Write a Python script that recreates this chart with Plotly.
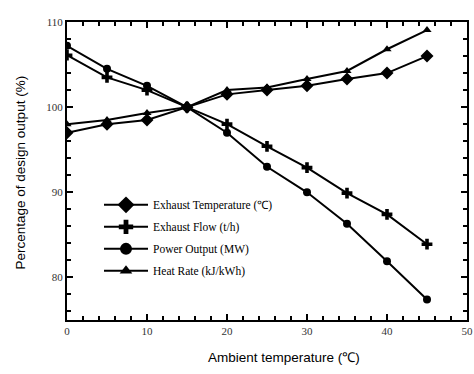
import plotly.graph_objects as go

temps = [0, 5, 10, 15, 20, 25, 30, 35, 40, 45]
exhaust_temp = [97.0, 98.0, 98.5, 100.0, 101.5, 102.0, 102.5, 103.3, 104.0, 106.0]
exhaust_flow = [106.1, 103.5, 102.0, 100.0, 98.0, 95.4, 92.9, 89.9, 87.4, 83.9]
power_output = [107.2, 104.5, 102.5, 100.0, 97.0, 93.0, 90.0, 86.3, 81.9, 77.4]
heat_rate = [98.0, 98.5, 99.3, 100.0, 102.0, 102.3, 103.3, 104.25, 106.8, 109.05]

series = [
    ("Exhaust Temperature (\u2103)", exhaust_temp, "diamond", 10, 13),
    ("Exhaust Flow (t/h)", exhaust_flow, "cross", 9, 12),
    ("Power Output (MW)", power_output, "circle", 8, 12),
    ("Heat Rate (kJ/kWh)", heat_rate, "triangle-up", 8, 11),
]

fig = go.Figure()
for i, (name, vals, sym, sz, lsz) in enumerate(series):
    fig.add_trace(go.Scatter(
        x=temps, y=vals, name=name, mode="lines+markers",
        line=dict(color="black", width=2),
        marker=dict(symbol=sym, size=sz, color="black"),
        legendgroup=f"g{i}", showlegend=False,
    ))
    # legend-only entry with larger marker, as in the reference legend
    fig.add_trace(go.Scatter(
        x=[None], y=[None], name=name, mode="lines+markers",
        line=dict(color="black", width=2),
        marker=dict(symbol=sym, size=lsz, color="black"),
        legendgroup=f"g{i}", showlegend=True,
    ))

axis_common = dict(
    showline=True, linewidth=2, linecolor="black", mirror="ticks",
    ticks="inside", ticklen=6, tickwidth=2, tickcolor="black",
    showgrid=False, zeroline=False, automargin=False,
    tickfont=dict(family="Liberation Serif", size=11, color="#333"),
)

fig.update_xaxes(
    range=[0, 50], tickvals=[0, 10, 20, 30, 40, 50],
    minor=dict(ticks="inside", ticklen=4, tickwidth=1.5, tickcolor="black", dtick=2, showgrid=False),
    **axis_common,
)
fig.update_yaxes(
    range=[75, 110], tickvals=[80, 90, 100, 110],
    minor=dict(ticks="inside", ticklen=4, tickwidth=1.5, tickcolor="black", dtick=2, tick0=0, showgrid=False),
    **axis_common,
)

fig.add_annotation(
    text="Ambient temperature (\u2103)", xref="paper", yref="paper",
    x=0.5425, y=-0.1275, xanchor="center", yanchor="middle", showarrow=False,
    font=dict(family="Liberation Sans", size=13.5, color="black"),
)
fig.add_annotation(
    text="Percentage of design output (%)", xref="paper", yref="paper",
    x=-0.1175, y=0.495, xanchor="center", yanchor="middle", showarrow=False,
    textangle=-90,
    font=dict(family="Liberation Sans", size=13.5, color="black"),
)

fig.update_layout(
    width=474, height=374,
    margin=dict(l=67, r=7, t=22, b=54),
    paper_bgcolor="white", plot_bgcolor="white",
    showlegend=True,
    legend=dict(
        x=0.08, y=0.435, xanchor="left", yanchor="top",
        font=dict(family="Liberation Serif", size=11.5, color="black"),
        bgcolor="rgba(0,0,0,0)", tracegroupgap=3, itemwidth=44,
    ),
)

fig.write_html("out.html", config={"displayModeBar": False},
               post_script="document.body.style.margin='0px';")
